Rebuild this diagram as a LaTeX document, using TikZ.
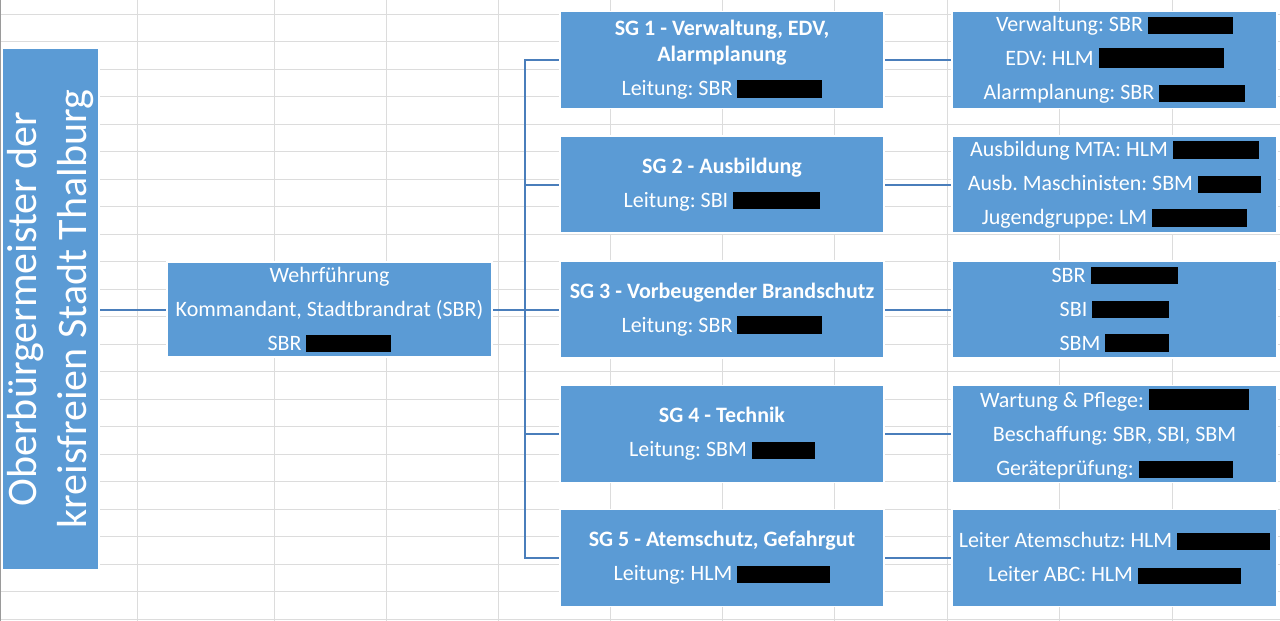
\documentclass[tikz,border=0pt]{standalone}
\usepackage{fontspec}
\setmainfont{Carlito}
\frenchspacing
\definecolor{boxblue}{HTML}{5B9BD5}
\definecolor{lineblue}{HTML}{4A7EBB}
\definecolor{gridgray}{HTML}{DCDCDC}
\definecolor{edgegray}{HTML}{9A9A9A}
\newcommand\redact[2]{{\color{black}\rule[-2pt]{#1pt}{#2pt}}}
\pgfdeclarelayer{gridlayer}
\pgfdeclarelayer{linelayer}
\pgfsetlayers{gridlayer,linelayer,main}
\begin{document}
\begin{tikzpicture}[x=1pt,y=-1pt,
  orgbox/.style={rectangle, fill=boxblue, draw=white, line width=1.5pt, text=white,
    align=center, inner sep=0pt, font=\fontsize{22}{34}\selectfont},
  sgbox/.style={orgbox, minimum width=324pt, minimum height=97pt},
  rbox/.style={orgbox, minimum width=325pt, minimum height=97pt},
  conn/.style={draw=lineblue, line width=2pt, line join=miter},
  gridline/.style={draw=gridgray, line width=1pt}]
\useasboundingbox (0,0) rectangle (1280,621);
\begin{pgfonlayer}{gridlayer}
\fill[white] (0,0) rectangle (1280,621);
\foreach \k in {0,...,22} \draw[gridline] (0,14.3+27.5*\k) -- (1280,14.3+27.5*\k);
\foreach \gx in {137,274,386,498,610,722,834,947,1059,1172} \draw[gridline] (\gx,0) -- (\gx,621);
\draw[draw=edgegray, line width=1.2pt] (0.6,0) -- (0.6,621);
\end{pgfonlayer}

% boxes
\node[orgbox, rotate=90, minimum width=522pt, minimum height=97pt,
  font=\fontsize{42}{50}\selectfont] (ob) at (50.5,309)
  {Oberbürgermeister der\\kreisfreien Stadt Thalburg};
\node[orgbox, minimum width=325pt, minimum height=95pt] (wehr) at (329.5,309.5)
  {Wehrführung\\Kommandant, Stadtbrandrat (SBR)\\SBR \redact{85}{17}};

\node[sgbox, font=\fontsize{22}{26}\selectfont] (sg1) at (722,60)
  {\textbf{SG 1 - Verwaltung, EDV,}\\\textbf{Alarmplanung}\\[8pt]Leitung: SBR \redact{85}{18}};
\node[sgbox] (sg2) at (722,184.5) {\textbf{SG 2 - Ausbildung}\\Leitung: SBI \redact{87}{17}};
\node[sgbox] (sg3) at (722,309.5) {\textbf{SG 3 - Vorbeugender Brandschutz}\\Leitung: SBR \redact{85}{18}};
\node[sgbox] (sg4) at (722,434) {\textbf{SG 4 - Technik}\\Leitung: SBM \redact{63}{17}};
\node[sgbox] (sg5) at (722,558) {\textbf{SG 5 - Atemschutz, Gefahrgut}\\Leitung: HLM \redact{93}{17}};

\node[rbox] (rb1) at (1114.5,60)
  {Verwaltung: SBR \redact{85}{17}\\EDV: HLM \redact{125}{20}\\Alarmplanung: SBR \redact{86}{17}};
\node[rbox] (rb2) at (1114.5,184.5)
  {Ausbildung MTA: HLM \redact{86}{18}\\Ausb. Maschinisten: SBM \redact{63}{17}\\Jugendgruppe: LM \redact{95}{18}};
\node[rbox] (rb3) at (1114.5,309.5)
  {SBR \redact{87}{17}\\SBI \redact{77}{17}\\SBM \redact{64}{18}};
\node[rbox] (rb4) at (1114.5,434)
  {Wartung \& Pflege: \redact{100}{21}\\Beschaffung: SBR, SBI, SBM\\Geräteprüfung: \redact{94}{17}};
\node[rbox] (rb5) at (1114.5,558)
  {Leiter Atemschutz: HLM \redact{93}{17}\\Leiter ABC: HLM \redact{103}{16}};

% connectors, on a layer below the boxes
\coordinate (bx) at (525,309.5);
\begin{pgfonlayer}{linelayer}
\draw[conn] (wehr.west -| ob.south) -- (wehr.west);
\draw[conn] (wehr.east) -- (wehr.east -| bx);
\draw[conn] (sg1.west) -| (sg5.west -| bx) -- (sg5.west);
\foreach \i in {2,3,4} \draw[conn] (sg\i.west) -- (sg\i.west -| bx);
\foreach \i in {1,...,5} \draw[conn] (sg\i.east) -- (rb\i.west);
\end{pgfonlayer}
\end{tikzpicture}
\end{document}
